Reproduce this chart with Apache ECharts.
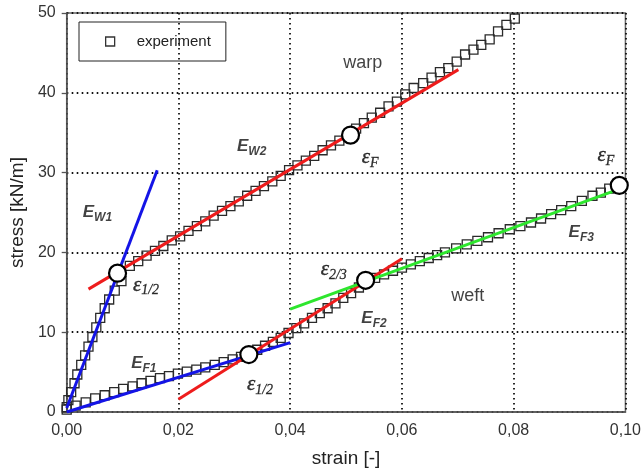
<!DOCTYPE html>
<html><head><meta charset="utf-8">
<script src="https://cdn.jsdelivr.net/npm/echarts@6/dist/echarts.min.js"></script>
<style>html,body{margin:0;padding:0;background:#fff}#c{width:644px;height:473px}</style>
</head><body><div id="c"></div>
<script>
// experiment, warp direction [strain, stress kN/m]
const warpExp = [
 [0.0000,0.6],[0.0003,1.5],[0.0008,2.5],[0.0014,3.6],[0.0019,4.7],[0.0026,5.9],[0.0033,7.1],
 [0.0039,8.2],[0.0046,9.4],[0.0053,10.6],[0.0060,11.8],[0.0068,13.0],[0.0076,14.1],[0.0086,15.2],
 [0.0098,16.4],[0.0113,18.3],[0.0128,18.9],[0.0143,19.6],[0.0158,20.2],[0.0173,20.8],[0.0188,21.5],
 [0.0203,22.0],[0.0218,22.7],[0.0233,23.3],[0.0248,23.9],[0.0263,24.6],[0.0278,25.2],[0.0293,25.8],
 [0.0308,26.4],[0.0323,27.1],[0.0338,27.7],[0.0353,28.3],[0.0368,28.9],[0.0383,29.6],[0.0398,30.3],
 [0.0413,30.9],[0.0428,31.5],[0.0443,32.1],[0.0458,32.8],[0.0473,33.4],[0.0488,34.0],[0.0503,34.6],
 [0.0518,35.5],[0.0532,36.2],[0.0546,36.9],[0.0561,37.5],[0.0576,38.3],[0.0591,38.9],[0.0606,39.8],
 [0.0621,40.6],[0.0638,41.2],[0.0653,41.9],[0.0668,42.6],[0.0683,43.1],[0.0698,43.9],[0.0713,44.8],
 [0.0728,45.4],[0.0742,46.0],[0.0757,46.7],[0.0772,47.7],[0.0787,48.5],[0.0802,49.3]
];
// experiment, weft direction
const weftExp = [
 [0.0000,0.3],[0.0016,0.8],[0.0034,1.2],[0.0051,1.7],[0.0068,2.1],[0.0085,2.5],[0.0101,2.9],
 [0.0118,3.2],[0.0134,3.6],[0.0150,3.9],[0.0167,4.25],[0.0183,4.5],[0.0199,4.8],[0.0215,5.05],
 [0.0232,5.3],[0.0248,5.6],[0.0265,5.9],[0.0281,6.25],[0.0297,6.6],[0.0312,6.9],[0.0327,7.3],
 [0.0341,7.8],[0.0355,8.3],[0.0369,8.8],[0.0383,9.3],[0.0397,9.9],[0.0411,10.5],[0.0425,11.1],
 [0.0439,11.8],[0.0453,12.4],[0.0467,13.0],[0.0481,13.6],[0.0495,14.3],[0.0509,14.9],[0.0523,15.6],
 [0.0537,16.3],[0.0552,16.8],[0.0568,17.25],[0.0584,17.7],[0.0600,18.1],[0.0616,18.5],[0.0632,18.9],
 [0.0648,19.3],[0.0663,19.65],[0.0677,20.0],[0.0697,20.5],[0.0716,21.0],[0.0735,21.45],[0.0754,21.9],
 [0.0773,22.4],[0.0793,22.9],[0.0812,23.3],[0.0831,23.75],[0.0849,24.25],[0.0867,24.8],[0.0885,25.3],
 [0.0903,25.8],[0.0922,26.45],[0.0941,27.1],[0.0956,27.5],[0.0971,28.0],[0.0985,28.3]
];
// fitted moduli lines (endpoints)
const lineEW1 = [[0.0000,0.5],[0.0162,30.3]];
const lineEW2 = [[0.0039,15.4],[0.0701,42.9]];
const lineEF1 = [[0.0000,0.0],[0.0400,8.7]];
const lineEF2 = [[0.0200,1.6],[0.0600,19.2]];
const lineEF3 = [[0.0400,12.9],[0.0980,27.7]];
// characteristic strain points
const keyPoints = [[0.0091,17.4],[0.0508,34.7],[0.0326,7.2],[0.0535,16.5],[0.0989,28.4]];
// annotations
const annText = ['{p|warp}','{p|weft}','{E|E}{Es|W1}','{E|E}{Es|W2}','{E|E}{Es|F1}','{E|E}{Es|F2}','{E|E}{Es|F3}',
  '{e|ε}{es|1/2}','{e|ε}{es|F}','{e|ε}{es|F}','{e|ε}{es|2/3}','{e|ε}{es|1/2}'];
const annPos = [[0.0530,43.7],[0.0718,14.5],[0.0055,25.0],[0.0331,33.3],[0.0138,6.1],[0.0550,11.7],[0.0921,22.5],
  [0.0142,15.9],[0.0543,31.85],[0.0965,32.1],[0.0478,17.8],[0.0346,3.4]];
const xTicks = {min:0, max:0.1, interval:0.02};
const yTicks = {min:0, max:50, interval:10};

const chart = echarts.init(document.getElementById('c'), null, {renderer:'canvas'});
const sans = 'Liberation Sans, Arial, sans-serif';
const serif = 'Liberation Serif, Times New Roman, serif';
const dotted = {type:[1.6,3.4], width:1.8, color:'#111'};
const sqStyle = {color:'rgba(255,255,255,0)', borderColor:'#2a2a2a', borderWidth:1.3, opacity:1};
function fitLine(data, color){
  return {type:'line', data:data, symbol:'none', silent:true, z:3,
    lineStyle:{color:color, width:3}, emphasis:{disabled:true}};
}
chart.setOption({
  animation:false,
  grid:{left:66, right:16, top:13, bottom:60, show:true, borderColor:'#666', borderWidth:1.5},
  legend:{data:['experiment'], left:79, top:22, orient:'vertical',
    padding:[12,15,12,26], borderColor:'#222', borderWidth:1, borderRadius:0,
    icon:'rect', itemWidth:9, itemHeight:9,
    itemStyle:{color:'rgba(255,255,255,0)', borderColor:'#333', borderWidth:1.3, opacity:1},
    textStyle:{fontFamily:sans, fontSize:15, color:'#222', padding:[0,0,0,17]}},
  xAxis:{type:'value', min:xTicks.min, max:xTicks.max, interval:xTicks.interval,
    name:'strain [-]', nameLocation:'middle', nameGap:37,
    nameTextStyle:{fontFamily:sans, fontSize:19, color:'#222'},
    axisLine:{show:true, lineStyle:{color:'#555', width:1.5}},
    axisTick:{show:false},
    axisLabel:{fontFamily:sans, fontSize:16, color:'#333', margin:11,
      formatter:v=>v.toFixed(2).replace('.',',')},
    splitLine:{show:true, lineStyle:dotted}},
  yAxis:{type:'value', min:yTicks.min, max:yTicks.max, interval:yTicks.interval,
    name:'stress [kN/m]', nameLocation:'middle', nameGap:39,
    nameTextStyle:{fontFamily:sans, fontSize:19, color:'#222'},
    axisLine:{show:true, lineStyle:{color:'#555', width:1.5}},
    axisTick:{show:true, length:5, lineStyle:{color:'#555', width:1.3}},
    axisLabel:{fontFamily:sans, fontSize:16, color:'#333', margin:11},
    splitLine:{show:true, lineStyle:dotted}},
  series:[
    {name:'experiment', type:'scatter', data:warpExp, symbol:'rect', symbolSize:9, z:2, clip:false, itemStyle:sqStyle},
    {name:'experiment', type:'scatter', data:weftExp, symbol:'rect', symbolSize:9, z:2, clip:false, itemStyle:sqStyle},
    fitLine(lineEW1,'#1414e6'),
    fitLine(lineEF1,'#1414e6'),
    fitLine(lineEW2,'#ee1c1c'),
    fitLine(lineEF2,'#ee1c1c'),
    fitLine(lineEF3,'#2ee62e'),
    {type:'scatter', data:keyPoints, symbol:'circle', symbolSize:17, z:4, clip:false,
      itemStyle:{color:'#ffffff', opacity:1, borderColor:'#000', borderWidth:2.2}},
    {type:'scatter', z:5, symbolSize:0, silent:true, clip:false,
      data:annPos.map((p,i)=>({value:p, label:{formatter:annText[i]}})),
      label:{show:true, position:'inside', align:'center', verticalAlign:'middle', color:'#111',
        rich:{
          p:{fontFamily:sans, fontSize:18, color:'#111'},
          E:{fontFamily:sans, fontSize:17, fontStyle:'italic', fontWeight:'bold', color:'#111'},
          Es:{fontFamily:sans, fontSize:12, fontStyle:'italic', fontWeight:'bold', color:'#111', padding:[10,0,0,0]},
          e:{fontFamily:serif, fontSize:21, fontStyle:'italic', color:'#000', textBorderColor:'#000', textBorderWidth:0.4},
          es:{fontFamily:serif, fontSize:14, fontStyle:'italic', color:'#000', textBorderColor:'#000', textBorderWidth:0.3, padding:[10,0,0,0]}
        }}}
  ]
});
</script></body></html>
